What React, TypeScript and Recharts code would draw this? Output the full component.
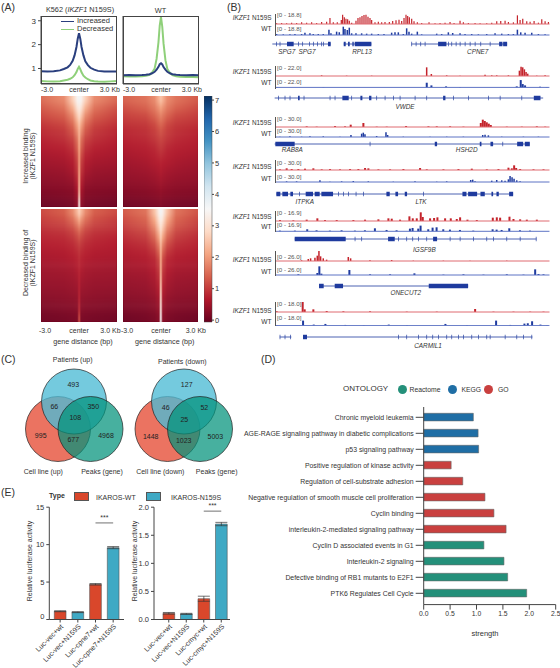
import {
  Bar,
  BarChart,
  Cell,
  ComposedChart,
  ErrorBar,
  Line,
  LineChart,
  ReferenceArea,
  ReferenceLine,
  Scatter,
  ScatterChart,
  XAxis,
  YAxis,
} from 'recharts';

const FONT = '"Liberation Sans", Arial, sans-serif';
const INK = '#333';
const AXIS = '#444';

// (A) signal profiles
const PROFILE_X = [-3, -2.5, -2, -1.5, -1.2, -0.9, -0.7, -0.5, -0.35, -0.2, -0.1, 0, 0.1, 0.2, 0.35, 0.5, 0.7, 0.9, 1.2, 1.5, 2, 2.5, 3];
const mutIncreased = [0.88, 0.87, 0.88, 0.92, 0.98, 1.05, 1.15, 1.32, 1.55, 1.9, 2.25, 2.48, 2.25, 1.9, 1.55, 1.3, 1.14, 1.03, 0.95, 0.9, 0.87, 0.87, 0.87];
const mutDecreased = [0.48, 0.46, 0.45, 0.47, 0.5, 0.53, 0.57, 0.63, 0.72, 0.85, 0.98, 1.07, 0.97, 0.84, 0.7, 0.62, 0.55, 0.5, 0.47, 0.45, 0.44, 0.46, 0.48];
const wtIncreased = [0.72, 0.73, 0.72, 0.73, 0.74, 0.76, 0.8, 0.86, 0.95, 1.07, 1.18, 1.22, 1.17, 1.06, 0.95, 0.86, 0.8, 0.76, 0.74, 0.73, 0.72, 0.73, 0.72];
const wtDecreased = [0.67, 0.66, 0.66, 0.67, 0.69, 0.73, 0.83, 1.0, 1.4, 2.1, 2.8, 3.15, 2.75, 2.05, 1.35, 0.98, 0.82, 0.72, 0.67, 0.65, 0.64, 0.64, 0.63];

// (A) heatmaps: rows top to bottom, values at HEAT_X
const HEAT_X = [-3, -1.2, -0.5, -0.15, 0, 0.15, 0.5, 1.2, 3];
const heatMutUp = [
  [1.55, 1.85, 2.7, 3.4, 3.6, 3.4, 2.7, 1.85, 1.5],
  [1.35, 1.6, 2.25, 3.0, 3.2, 3.0, 2.25, 1.6, 1.25],
  [1.2, 1.38, 1.85, 2.55, 2.85, 2.55, 1.85, 1.38, 1.1],
  [1.02, 1.18, 1.55, 2.15, 2.5, 2.15, 1.55, 1.18, 0.95],
  [0.88, 1.0, 1.3, 1.85, 2.3, 1.85, 1.3, 1.0, 0.82],
  [0.76, 0.88, 1.08, 1.55, 2.2, 1.55, 1.08, 0.88, 0.72],
  [0.68, 0.75, 0.92, 1.4, 2.1, 1.4, 0.92, 0.75, 0.64],
  [0.58, 0.64, 0.78, 1.2, 2.0, 1.2, 0.78, 0.64, 0.58],
  [0.5, 0.55, 0.66, 1.05, 2.0, 1.05, 0.66, 0.55, 0.5],
  [0.42, 0.46, 0.58, 0.95, 2.1, 0.95, 0.58, 0.46, 0.42],
  [0.34, 0.38, 0.46, 0.8, 2.2, 0.8, 0.46, 0.38, 0.34],
  [0.27, 0.3, 0.34, 0.65, 2.3, 0.65, 0.34, 0.3, 0.27],
  [0.18, 0.22, 0.26, 0.5, 2.6, 0.5, 0.26, 0.22, 0.18],
  [0.06, 0.1, 0.14, 0.35, 3.3, 0.35, 0.14, 0.1, 0.06],
];
const heatWtUp = [
  [1.45, 1.6, 1.85, 2.3, 2.5, 2.3, 1.85, 1.6, 1.35],
  [1.25, 1.42, 1.66, 1.92, 2.05, 1.92, 1.66, 1.42, 1.18],
  [1.1, 1.2, 1.44, 1.64, 1.74, 1.64, 1.44, 1.2, 1.05],
  [0.98, 1.04, 1.2, 1.42, 1.48, 1.42, 1.2, 1.04, 0.94],
  [0.84, 0.92, 1.06, 1.2, 1.27, 1.2, 1.06, 0.92, 0.8],
  [0.75, 0.83, 0.95, 1.06, 1.1, 1.06, 0.95, 0.83, 0.72],
  [0.66, 0.74, 0.82, 0.94, 0.98, 0.94, 0.82, 0.74, 0.66],
  [0.58, 0.66, 0.74, 0.82, 0.86, 0.82, 0.74, 0.66, 0.58],
  [0.5, 0.58, 0.66, 0.7, 0.74, 0.7, 0.66, 0.58, 0.5],
  [0.44, 0.5, 0.56, 0.62, 0.66, 0.62, 0.56, 0.5, 0.44],
  [0.38, 0.42, 0.48, 0.52, 0.56, 0.52, 0.48, 0.42, 0.38],
  [0.3, 0.34, 0.38, 0.42, 0.46, 0.42, 0.38, 0.34, 0.3],
  [0.22, 0.26, 0.3, 0.32, 0.35, 0.32, 0.3, 0.26, 0.22],
  [0.08, 0.12, 0.16, 0.18, 0.22, 0.18, 0.16, 0.12, 0.08],
];
const heatMutDown = [
  [1.2, 1.4, 1.85, 2.4, 2.7, 2.4, 1.85, 1.4, 1.2],
  [1.05, 1.2, 1.5, 1.85, 2.1, 1.85, 1.5, 1.2, 1.0],
  [0.9, 1.0, 1.18, 1.42, 1.58, 1.42, 1.18, 1.0, 0.9],
  [0.8, 0.85, 0.98, 1.14, 1.26, 1.14, 0.98, 0.85, 0.76],
  [0.72, 0.76, 0.84, 0.96, 1.04, 0.96, 0.84, 0.76, 0.68],
  [0.63, 0.67, 0.75, 0.83, 0.92, 0.83, 0.75, 0.67, 0.63],
  [0.58, 0.62, 0.66, 0.74, 0.84, 0.74, 0.66, 0.62, 0.58],
  [0.5, 0.54, 0.58, 0.66, 0.78, 0.66, 0.58, 0.54, 0.5],
  [0.46, 0.48, 0.52, 0.58, 0.74, 0.58, 0.52, 0.48, 0.46],
  [0.4, 0.42, 0.46, 0.5, 0.72, 0.5, 0.46, 0.42, 0.4],
  [0.34, 0.36, 0.4, 0.43, 0.74, 0.43, 0.4, 0.36, 0.34],
  [0.26, 0.3, 0.32, 0.36, 0.78, 0.36, 0.32, 0.3, 0.26],
  [0.18, 0.22, 0.24, 0.28, 0.85, 0.28, 0.24, 0.22, 0.18],
  [0.08, 0.12, 0.15, 0.18, 1.2, 0.18, 0.15, 0.12, 0.08],
];
const heatWtDown = [
  [1.36, 1.6, 2.5, 3.3, 3.6, 3.3, 2.5, 1.6, 1.28],
  [1.18, 1.4, 2.1, 2.9, 3.2, 2.9, 2.1, 1.4, 1.1],
  [1.02, 1.22, 1.75, 2.5, 2.9, 2.5, 1.75, 1.22, 0.98],
  [0.88, 1.04, 1.45, 2.1, 2.6, 2.1, 1.45, 1.04, 0.84],
  [0.76, 0.88, 1.18, 1.7, 2.35, 1.7, 1.18, 0.88, 0.76],
  [0.66, 0.76, 0.95, 1.4, 2.2, 1.4, 0.95, 0.76, 0.66],
  [0.6, 0.66, 0.78, 1.12, 2.15, 1.12, 0.78, 0.66, 0.6],
  [0.54, 0.58, 0.7, 1.0, 2.2, 1.0, 0.7, 0.58, 0.54],
  [0.46, 0.5, 0.62, 0.88, 2.35, 0.88, 0.62, 0.5, 0.46],
  [0.4, 0.44, 0.54, 0.76, 2.55, 0.76, 0.54, 0.44, 0.4],
  [0.34, 0.38, 0.46, 0.64, 2.75, 0.64, 0.46, 0.38, 0.34],
  [0.26, 0.3, 0.36, 0.52, 3.0, 0.52, 0.36, 0.3, 0.26],
  [0.18, 0.22, 0.28, 0.42, 3.2, 0.42, 0.28, 0.22, 0.18],
  [0.06, 0.12, 0.18, 0.3, 3.5, 0.3, 0.18, 0.12, 0.06],
];
const RDBU = ['#67001f', '#b2182b', '#d6604d', '#f4a582', '#fddbc7', '#f7f7f7', '#d1e5f0', '#92c5de', '#4393c3', '#2166ac', '#053061'];
const COLORBAR_TICKS = [0, 1, 2, 3, 4, 5, 6, 7];

// (B) genome tracks: [position, signal]
const track1Red = [[140,2],[155,3],[170,2],[185,4],[200,3],[215,5],[230,4],[245,5],[260,3],[275,6],[290,7],[300,18],[310,5],[322,5],[334,12],[338,28],[343,20],[348,16],[353,14],[358,10],[365,4],[378,10],[384,18],[390,20],[396,24],[402,27],[408,28],[414,22],[420,18],[425,12],[435,5],[445,7],[455,5],[465,6],[478,6],[488,9],[498,11],[507,13],[515,9],[522,18],[528,28],[533,24],[538,20],[545,16],[552,8],[562,5],[575,3],[597,5],[615,2],[630,3],[645,4],[660,6],[672,3],[690,10],[700,5],[715,3],[735,3],[750,2],[770,2],[785,4],[800,8],[812,9],[825,10],[835,6],[850,5],[862,26],[870,12],[878,16],[890,8],[900,7],[912,9],[925,4],[935,14],[945,8],[955,6]];
const track1Blue = [[140,3],[160,2],[180,2],[195,3],[215,3],[225,7],[240,5],[250,3],[265,3],[280,3],[297,16],[303,5],[320,10],[328,8],[340,25],[345,18],[352,15],[358,22],[365,5],[378,5],[395,5],[410,4],[425,4],[445,3],[462,3],[485,7],[495,8],[505,8],[520,3],[530,20],[537,10],[545,4],[562,10],[575,2],[620,4],[635,3],[655,8],[668,6],[690,5],[705,3],[725,3],[745,2],[770,3],[795,5],[815,4],[835,3],[850,3],[862,16],[872,8],[885,7],[905,7],[925,3],[945,2]];
const track2Red = [[275,2],[350,1],[425,1],[590,26],[604,6],[650,2],[690,1],[765,4],[785,2],[800,2],[835,2],[868,16],[873,28],[878,26],[883,20],[888,12],[893,7],[920,1],[945,2]];
const track2Blue = [[140,1],[280,1],[590,14],[604,6],[648,3],[690,1],[860,3],[872,22],[878,10],[885,6],[930,2],[950,1]];
const track3Red = [[230,2],[260,1],[315,3],[345,2],[362,7],[400,12],[440,1],[470,1],[528,3],[595,2],[620,2],[660,2],[700,1],[752,12],[758,22],[764,18],[770,14],[776,10],[782,6],[830,1],[875,1],[920,2],[945,1]];
const track3Blue = [[150,1],[180,2],[215,1],[240,2],[280,2],[330,1],[363,6],[395,10],[400,13],[405,8],[440,3],[468,14],[473,6],[520,1],[600,1],[650,1],[700,1],[758,6],[765,7],[775,5],[815,1],[880,1],[925,1]];
const track4Red = [[150,2],[170,5],[185,3],[205,3],[225,4],[250,5],[275,2],[300,3],[330,2],[360,3],[385,3],[405,6],[415,5],[445,2],[480,2],[520,3],[570,6],[590,2],[640,2],[685,3],[725,4],[770,2],[805,3],[835,7],[845,5],[852,14],[858,6],[870,3],[910,2],[940,2]];
const track4Blue = [[170,2],[200,2],[270,5],[300,1],[335,2],[370,3],[415,2],[490,1],[555,2],[620,1],[650,2],[722,6],[728,7],[735,2],[785,4],[800,6],[815,5],[825,4],[835,8],[840,18],[846,14],[852,10],[860,5],[870,2]];
const track5Red = [[150,3],[190,2],[230,4],[262,8],[285,3],[320,3],[370,3],[405,4],[445,5],[475,8],[485,7],[510,4],[538,14],[548,8],[560,8],[572,26],[578,12],[600,8],[612,9],[622,11],[645,8],[662,8],[680,6],[690,11],[712,4],[740,3],[788,10],[800,11],[810,10],[838,13],[850,6],[870,5],[890,4],[920,4]];
const track5Blue = [[150,2],[195,2],[232,6],[260,3],[300,2],[335,3],[375,2],[405,3],[435,9],[470,4],[500,3],[540,8],[548,10],[565,8],[572,17],[595,6],[608,11],[620,12],[640,6],[660,5],[690,4],[730,2],[788,6],[800,5],[815,4],[838,9],[870,3],[900,2]];
const track6Red = [[215,2],[235,6],[242,8],[255,10],[262,16],[267,30],[272,14],[280,8],[290,4],[355,12],[362,8],[420,2],[485,3],[550,1],[640,1],[720,1],[830,1]];
const track6Blue = [[205,2],[262,6],[268,26],[274,4],[358,15],[420,2],[480,2],[553,5],[640,1],[700,2],[760,1],[830,2],[880,1],[915,17],[925,3],[940,2]];
const track7Red = [[140,2],[218,30],[224,8],[250,8],[290,3],[340,2],[420,2],[530,1],[620,1],[735,9],[790,1],[850,1],[900,1],[940,1]];
const track7Blue = [[140,1],[218,15],[250,3],[285,5],[345,2],[400,1],[475,3],[530,1],[645,5],[710,1],[797,15],[840,2],[882,6],[892,7],[905,13],[930,3],[950,1]];

// (B) gene models: [start, end] with exons as a position or a [start, end] span
type Gene = { span: number[]; exons: (number | number[])[] };
const genes1: Gene[] = [
  { span: [128, 205], exons: [140, 150, [172, 192], 205] },
  { span: [205, 303], exons: [218, 238, 250, 262, 275, 280, [295, 303]] },
  { span: [342, 425], exons: [[342, 348], [355, 360], [368, 372], [375, 425]] },
  { span: [545, 832], exons: [545, 558, 572, 585, [625, 650], 655, 665, 678, 690, 705, 720, 735, 752, 780, [808, 818], [820, 832]] },
];
const genes2: Gene[] = [
  { span: [135, 940], exons: [145, 165, 180, [205, 210], 222, 300, 315, [338, 357], 365, [392, 398], [418, 425], 440, 465, 490, 510, 555, 590, [640, 647], 670, 715, 775, 810, 875, [912, 932]] },
];
const genes3: Gene[] = [
  { span: [135, 900], exons: [[137, 195], 420, [615, 622], [750, 755], [782, 790], 818, [862, 880], [885, 900]] },
];
const genes4: Gene[] = [
  { span: [140, 850], exons: [[140, 152], [158, 175], [182, 190], 208, [228, 250], [255, 270], [275, 310], 325, 340, 355, 378, 400, [470, 480], [497, 505], [525, 532], 580, [698, 710], [715, 742], [752, 765], [785, 790], [800, 807], [838, 850]] },
];
const genes5: Gene[] = [
  { span: [195, 920], exons: [[195, 348], 375, 395, [475, 495], 505, 530, 548, 565, 590, [610, 622], 660, 690, 730, 770, 790, 830, 870, 918] },
];
const genes6: Gene[] = [
  { span: [270, 715], exons: [[268, 282], [315, 340], [597, 715]] },
];
const genes7: Gene[] = [
  { span: [150, 185], exons: [150, 165, 182] },
  { span: [220, 908], exons: [[220, 232], 505, 530, 565, 590, 608, 625, 650, 665, 685, 700, 725, 745, 770, 780, 825, 860, 880, 905] },
];

// (C) venn counts: patients, patients+line, patients+peaks, all, line, line+peaks, peaks
const vennUpCounts = [493, 66, 350, 108, 995, 677, 4968];
const vennDownCounts = [127, 46, 52, 25, 1448, 1023, 5003];

// (D) enrichment
const ontologyTerms = [
  'Chronic myeloid leukemia',
  'AGE-RAGE signaling pathway in diabetic complications',
  'p53 signaling pathway',
  'Positive regulation of kinase activity',
  'Regulation of cell-substrate adhesion',
  'Negative regulation of smooth muscle cell proliferation',
  'Cyclin binding',
  'interleukin-2-mediated signaling pathway',
  'Cyclin D associated events in G1',
  'Interleukin-2 signaling',
  'Defective binding of RB1 mutants to E2F1',
  'PTK6 Regulates Cell Cycle',
];
const ontologyStrength = [0.94, 1.03, 1.04, 0.52, 0.74, 1.16, 1.33, 1.56, 1.14, 1.52, 1.59, 1.95];
const ontologyClass = ['KEGG', 'KEGG', 'KEGG', 'GO', 'GO', 'GO', 'GO', 'GO', 'Reactome', 'Reactome', 'Reactome', 'Reactome'];
const ONTOLOGY_COLORS: Record<string, string> = { Reactome: '#24907a', KEGG: '#1f6ea5', GO: '#c9403f' };

// (E) luciferase
const cpne7Labels = ['Luc-vec+wt', 'Luc-vec+N159S', 'Luc-cpne7+wt', 'Luc-cpne7+N159S'];
const cpne7Values = [1.1, 0.98, 4.7, 9.6];
const cpne7Errors = [0.06, 0.06, 0.1, 0.14];
const cmycLabels = ['Luc-vec+wt', 'Luc-vec+N159S', 'Luc-cmyc+wt', 'Luc-cmyc+N159S'];
const cmycValues = [0.11, 0.1, 0.37, 1.7];
const cmycErrors = [0.015, 0.01, 0.045, 0.03];
const LUC_COLORS = ['#d9472b', '#3fa9c4'];

const TRACK_RED = '#c4232b';
const TRACK_BLUE = '#1f3b9e';

function Txt({ x, y, size = 7, anchor = 'middle', rotate = 0, color = INK, bold = false, italic = false, children }: any) {
  const shift = anchor === 'middle' ? '-50%' : anchor === 'end' ? '-100%' : '0';
  return (
    <span
      style={{
        position: 'absolute',
        left: x,
        top: y,
        fontSize: size,
        lineHeight: 1,
        color,
        whiteSpace: 'nowrap',
        fontWeight: bold ? 700 : 400,
        fontStyle: italic ? 'italic' : 'normal',
        transform: `translate(${shift}, -50%) rotate(${rotate}deg)`,
      }}
    >
      {children}
    </span>
  );
}

function rdbu(value: number) {
  const t = Math.max(0, Math.min(0.9999, value / 7)) * (RDBU.length - 1);
  const i = Math.floor(t);
  const mix = (a: string, b: string, f: number) => {
    const pa = [1, 3, 5].map((k) => parseInt(a.slice(k, k + 2), 16));
    const pb = [1, 3, 5].map((k) => parseInt(b.slice(k, k + 2), 16));
    return `rgb(${pa.map((c, n) => Math.round(c + (pb[n] - c) * f)).join(',')})`;
  };
  return mix(RDBU[i], RDBU[i + 1], t - i);
}

function ProfileTick({ x, y, index, span }: any) {
  const anchor = index === 0 ? 'start' : index === 2 ? 'end' : 'middle';
  const label = index === 0 ? '-3.0' : index === 1 ? 'center' : '3.0 Kb';
  return (
    <text x={x + (index === 2 ? span : 0)} y={y + 6} textAnchor={anchor} fontSize={7} fill={INK}>
      {label}
    </text>
  );
}

function Profile({ left, up, down, showY }: any) {
  const data = PROFILE_X.map((pos, i) => ({ pos, up: up[i], down: down[i] }));
  return (
    <div style={{ position: 'absolute', left: left - 30, top: 16 }}>
      <LineChart width={112} height={84} data={data} margin={{ top: 0, right: 6, left: 0, bottom: 0 }}>
        <XAxis
          type="number"
          dataKey="pos"
          domain={[-3, 3]}
          ticks={[-3, 0, 3]}
          interval={0}
          height={16}
          tickSize={0}
          axisLine={{ stroke: AXIS }}
          tick={<ProfileTick span={3} />}
        />
        <YAxis
          type="number"
          width={30}
          domain={[0.35, 3.2]}
          ticks={[1, 2, 3]}
          tickSize={3}
          tickMargin={2}
          fontSize={8}
          tick={showY ? { fill: INK } : false}
          axisLine={{ stroke: AXIS }}
          tickLine={{ stroke: AXIS }}
        />
        <Line dataKey="down" stroke="#8fd07a" strokeWidth={2} dot={false} isAnimationActive={false} />
        <Line dataKey="up" stroke="#2a3f7e" strokeWidth={2} dot={false} isAnimationActive={false} />
      </LineChart>
      <div style={{ position: 'absolute', left: 30, top: 0, width: 76, height: 68, border: `1px solid ${AXIS}`, boxSizing: 'border-box' }} />
    </div>
  );
}

function Heat({ id, rows, left, top, width, height }: any) {
  const padded = [rows[0], ...rows, rows[rows.length - 1]];
  const rowHeight = height / rows.length;
  const data = padded.map((_: number[], row: number) => ({ row, span: 1 }));
  return (
    <div style={{ position: 'absolute', left, top, width, height, overflow: 'hidden', outline: `1px solid ${AXIS}`, outlineOffset: -1 }}>
      <div style={{ position: 'absolute', left: 0, top: -rowHeight, filter: 'url(#rowBlur)' }}>
        <BarChart layout="vertical" width={width} height={height + 2 * rowHeight} data={data} barCategoryGap={0} margin={{ top: 0, right: 0, left: 0, bottom: 0 }}>
          <defs>
            {padded.map((values: number[], row: number) => (
              <linearGradient key={row} id={`${id}-${row}`} x1="0" x2="1" y1="0" y2="0">
                {values.map((v, k) => (
                  <stop key={k} offset={(HEAT_X[k] + 3) / 6} stopColor={rdbu(v)} />
                ))}
              </linearGradient>
            ))}
          </defs>
          <XAxis type="number" domain={[0, 1]} hide />
          <YAxis type="category" dataKey="row" hide />
          <Bar dataKey="span" isAnimationActive={false}>
            {data.map((d: any) => (
              <Cell key={d.row} fill={`url(#${id}-${d.row})`} />
            ))}
          </Bar>
        </BarChart>
      </div>
    </div>
  );
}

function ColorBar() {
  return (
    <div style={{ position: 'absolute', left: 204, top: 95.7 }}>
      <BarChart width={24} height={234} data={[{ name: 'scale', range: [-0.06, 7.13] }]} barCategoryGap={0} margin={{ top: 0, right: 0, left: 0, bottom: 8 }}>
        <defs>
          <linearGradient id="cbar" x1="0" x2="0" y1="1" y2="0">
            {RDBU.map((c, i) => (
              <stop key={c} offset={i / (RDBU.length - 1)} stopColor={c} />
            ))}
          </linearGradient>
        </defs>
        <XAxis dataKey="name" hide />
        <YAxis
          orientation="right"
          type="number"
          width={16}
          domain={[-0.06, 7.13]}
          ticks={COLORBAR_TICKS}
          interval={0}
          tickSize={2}
          tickMargin={1}
          fontSize={7.5}
          tick={{ fill: INK }}
          axisLine={false}
          tickLine={{ stroke: AXIS }}
        />
        <Bar dataKey="range" fill="url(#cbar)" stroke={AXIS} strokeWidth={0.5} isAnimationActive={false} />
      </BarChart>
    </div>
  );
}

function Track({ peaks, top, height, color, line }: any) {
  const data = peaks.map(([pos, signal]: number[]) => ({ pos, signal }));
  return (
    <div style={{ position: 'absolute', left: 275, top }}>
      <BarChart width={274.5} height={height + 1} data={data} margin={{ top: 0, right: 0, left: 0, bottom: 1 }}>
        <XAxis type="number" dataKey="pos" domain={[135, 958]} hide />
        <YAxis type="number" domain={[0, height * 3]} hide />
        <ReferenceLine y={0} stroke={line} strokeWidth={1} />
        <Bar dataKey="signal" fill={color} barSize={2} isAnimationActive={false} />
      </BarChart>
    </div>
  );
}

function GeneTrack({ genes, y }: any) {
  return (
    <div style={{ position: 'absolute', left: 268.33, top: y - 4 }}>
      <ComposedChart width={281.17} height={8} data={[{ pos: 115, base: 0 }, { pos: 958, base: 0 }]} margin={{ top: 0, right: 0, left: 0, bottom: 0 }}>
        <XAxis type="number" dataKey="pos" domain={[115, 958]} hide />
        <YAxis type="number" domain={[0, 1]} hide />
        <Line dataKey="base" stroke="none" dot={false} isAnimationActive={false} />
        {genes.map((g: Gene, i: number) => (
          <ReferenceLine
            key={i}
            segment={[
              { x: g.span[0], y: 0.5 },
              { x: g.span[1], y: 0.5 },
            ]}
            stroke={TRACK_BLUE}
            strokeWidth={0.8}
          />
        ))}
        {genes.flatMap((g: Gene, i: number) =>
          g.exons.map((e, k) => {
            const [s, t] = Array.isArray(e) ? e : [e, e + 2];
            return <ReferenceArea key={`${i}-${k}`} x1={s} x2={t} y1={0.22} y2={0.78} fill={TRACK_BLUE} fillOpacity={1} stroke="none" />;
          }),
        )}
      </ComposedChart>
    </div>
  );
}

function Locus({ range, red, blue, genes, names, redBase, blueBase, redLabel, blueLabel, redRange, blueRange, geneY, nameY }: any) {
  const redHeight = 11;
  const top = redBase - redHeight;
  return (
    <>
      <Track peaks={red} top={top} height={redHeight} color={TRACK_RED} line="#df6a70" />
      <Track peaks={blue} top={redBase} height={blueBase - redBase} color={TRACK_BLUE} line="#5d73c4" />
      <div style={{ position: 'absolute', left: 274.5, top: top + 1, width: 0.8, height: blueBase - top, background: '#555' }} />
      <Txt x={271.5} y={redLabel} size={6.4} anchor="end">
        <i>IKZF1</i> N159S
      </Txt>
      <Txt x={271.5} y={blueLabel} size={6.6} anchor="end">
        WT
      </Txt>
      <Txt x={277} y={redRange} size={6.2} anchor="start" color="#555">{`[0 - ${range}]`}</Txt>
      <Txt x={277} y={blueRange} size={6.2} anchor="start" color="#555">{`[0 - ${range}]`}</Txt>
      <GeneTrack genes={genes} y={geneY} />
      {names.map(([name, x]: any) => (
        <Txt key={`${name}${x}`} x={x} y={nameY} size={6.4} italic>
          {name}
        </Txt>
      ))}
    </>
  );
}

function VennCircle({ cx, cy, fill, opacity }: any) {
  return <circle cx={cx} cy={cy} r={32.5} fill={fill} fillOpacity={opacity} stroke="#222" strokeWidth={0.7} />;
}

function VennCount(props: any) {
  return (
    <text x={props.cx} y={props.cy} dy={2.6} textAnchor="middle" fontSize={7} fill="#222">
      {props.payload.count}
    </text>
  );
}

function Venn() {
  const red = [{ x: 58, y: 429 }, { x: 167.5, y: 429 }];
  const blue = [{ x: 74, y: 401.5 }, { x: 184, y: 401.5 }];
  const green = [{ x: 90.5, y: 429 }, { x: 200, y: 429 }];
  const upSpots = [[73.3, 384.3], [54.3, 406.7], [93.3, 406.7], [75.3, 417.7], [40.7, 435.7], [73.3, 439.7], [106, 435]];
  const downSpots = [[186.7, 384.3], [165.7, 407.7], [204.3, 407.7], [184.3, 419], [150.7, 436], [183.7, 440.7], [215.3, 436]];
  const counts = [
    ...vennUpCounts.map((count, i) => ({ x: upSpots[i][0], y: upSpots[i][1], count })),
    ...vennDownCounts.map((count, i) => ({ x: downSpots[i][0], y: downSpots[i][1], count })),
  ];
  return (
    <div style={{ position: 'absolute', left: 0, top: 360 }}>
      <ScatterChart width={240} height={110} margin={{ top: 0, right: 0, left: 0, bottom: 0 }}>
        <XAxis type="number" dataKey="x" domain={[0, 240]} hide />
        <YAxis type="number" dataKey="y" domain={[360, 470]} reversed hide />
        <Scatter data={red} isAnimationActive={false} shape={(p: any) => <VennCircle {...p} fill="#e64b35" opacity={0.78} />} />
        <Scatter data={blue} isAnimationActive={false} shape={(p: any) => <VennCircle {...p} fill="#4dbbd5" opacity={0.78} />} />
        <Scatter data={green} isAnimationActive={false} shape={(p: any) => <VennCircle {...p} fill="#00917a" opacity={0.72} />} />
        <Scatter data={counts} isAnimationActive={false} shape={<VennCount />} />
      </ScatterChart>
    </div>
  );
}

function TermTick({ x, y, payload }: any) {
  return (
    <text x={x} y={y + 2.4} textAnchor="end" fontSize={6.9} fill={INK}>
      {payload.value}
    </text>
  );
}

function Ontology() {
  const data = ontologyTerms.map((term, i) => ({ term, strength: ontologyStrength[i], group: ontologyClass[i] }));
  return (
    <div style={{ position: 'absolute', left: 235, top: 406.7 }}>
      <BarChart layout="vertical" width={325} height={218} data={data} barSize={7.6} margin={{ top: 0, right: 4.3, left: 0, bottom: 0 }}>
        <XAxis
          type="number"
          domain={[0, 2.5]}
          ticks={[0, 0.5, 1, 1.5, 2, 2.5]}
          height={20.4}
          tickFormatter={(v: number) => v.toFixed(1)}
          tickSize={5}
          tickMargin={2}
          fontSize={6.8}
          tick={{ fill: INK }}
          axisLine={{ stroke: AXIS }}
          tickLine={{ stroke: AXIS }}
        />
        <YAxis
          type="category"
          dataKey="term"
          width={188.7}
          interval={0}
          padding={{ top: 2.3, bottom: 3.3 }}
          tickSize={8}
          tickMargin={2}
          tick={<TermTick />}
          axisLine={{ stroke: AXIS }}
          tickLine={{ stroke: AXIS }}
        />
        <Bar dataKey="strength" stroke="#666" strokeWidth={0.6} isAnimationActive={false}>
          {data.map((d) => (
            <Cell key={d.term} fill={ONTOLOGY_COLORS[d.group]} />
          ))}
        </Bar>
      </BarChart>
    </div>
  );
}

function ZeroLiftTick({ x, y, payload }: any) {
  return (
    <text x={x} y={y + (payload.value === 0 ? -1 : 2.6)} textAnchor="end" fontSize={7.5} fill={INK}>
      {payload.value}
    </text>
  );
}

function LucChart({ left, axisX, labels, values, errors, domain, ticks, tickFormat, sigY, liftZero, width, pad }: any) {
  const data = labels.map((label: string, i: number) => ({ label, value: values[i], err: errors[i] }));
  return (
    <div style={{ position: 'absolute', left, top: 500 }}>
      <BarChart width={width} height={168} data={data} barSize={11.7} margin={{ top: 7.2, right: 8, left: 0, bottom: 0 }}>
        <XAxis
          dataKey="label"
          interval={0}
          height={48.5}
          padding={pad}
          angle={-45}
          textAnchor="end"
          tickSize={3}
          tickMargin={1}
          fontSize={7}
          tick={{ fill: INK }}
          axisLine={{ stroke: AXIS }}
          tickLine={{ stroke: AXIS }}
        />
        <YAxis
          type="number"
          width={axisX - left}
          domain={domain}
          ticks={ticks}
          interval={0}
          tickFormatter={tickFormat}
          tickSize={3}
          tickMargin={2}
          fontSize={7.5}
          tick={liftZero ? <ZeroLiftTick /> : { fill: INK }}
          axisLine={{ stroke: AXIS }}
          tickLine={{ stroke: AXIS }}
        />
        <Bar dataKey="value" stroke="#555" strokeWidth={0.6} isAnimationActive={false}>
          {data.map((_: any, i: number) => (
            <Cell key={i} fill={LUC_COLORS[i % 2]} />
          ))}
          <ErrorBar dataKey="err" width={6} stroke="#333" strokeWidth={0.7} />
        </Bar>
        <ReferenceLine
          segment={[
            { x: labels[2], y: sigY },
            { x: labels[3], y: sigY },
          ]}
          stroke="#333"
          strokeWidth={0.7}
          label={{ value: '***', position: 'top', fontSize: 7, fill: INK, dy: 2 }}
        />
      </BarChart>
    </div>
  );
}

export default function App() {
  return (
    <div style={{ position: 'absolute', left: 0, top: 0, width: 560, height: 668, overflow: 'hidden', background: '#fff', fontFamily: FONT }}>
      <svg width={0} height={0} style={{ position: 'absolute' }}>
        <filter id="rowBlur" x="0" y="-5%" width="100%" height="110%" colorInterpolationFilters="sRGB">
          <feGaussianBlur stdDeviation="0 3.2" />
        </filter>
      </svg>

      {/* (A) */}
      <Txt x={1} y={7} size={10.5} anchor="start">(A)</Txt>
      <Txt x={80} y={9.5} size={7.3}>
        K562 (<i>IKZF1</i> N159S)
      </Txt>
      <Txt x={160.5} y={10.5} size={7.3}>WT</Txt>
      <Profile left={41} up={mutIncreased} down={mutDecreased} showY />
      <Profile left={122.6} up={wtIncreased} down={wtDecreased} showY={false} />
      <div style={{ position: 'absolute', left: 61, top: 20.5, width: 13, height: 1.6, background: '#2a3f7e' }} />
      <div style={{ position: 'absolute', left: 61, top: 28.8, width: 13, height: 1.6, background: '#8fd07a' }} />
      <Txt x={77} y={21} size={7.5} anchor="start">Increased</Txt>
      <Txt x={77} y={29.3} size={7.5} anchor="start">Decreased</Txt>

      <Heat id="hmu" rows={heatMutUp} left={41} top={95.7} width={76.3} height={111.6} />
      <Heat id="hwu" rows={heatWtUp} left={122.6} top={95.7} width={75.7} height={111.6} />
      <Heat id="hmd" rows={heatMutDown} left={41} top={209} width={76.3} height={112.7} />
      <Heat id="hwd" rows={heatWtDown} left={122.6} top={209} width={75.7} height={112.7} />
      <ColorBar />
      <Txt x={25} y={156} size={7} rotate={-90}>Increased binding</Txt>
      <Txt x={32.3} y={156} size={7} rotate={-90}>(IKZF1 N159S)</Txt>
      <Txt x={25} y={263} size={7} rotate={-90}>Decreased binding of</Txt>
      <Txt x={32.3} y={263} size={7} rotate={-90}>(IKZF1 N159S)</Txt>
      <Txt x={45} y={329.7}>-3.0</Txt>
      <Txt x={79} y={329.7}>center</Txt>
      <Txt x={120.6} y={329.7} anchor="end">3.0 Kb</Txt>
      <Txt x={127} y={329.7}>-3.0</Txt>
      <Txt x={161} y={329.7}>center</Txt>
      <Txt x={206} y={329.7} anchor="end">3.0 Kb</Txt>
      <Txt x={83} y={341.7} size={7.2}>gene distance (bp)</Txt>
      <Txt x={164.7} y={341.7} size={7.2}>gene distance (bp)</Txt>

      {/* (B) */}
      <Txt x={227} y={7} size={10.5} anchor="start">(B)</Txt>
      <Locus range="18.8" red={track1Red} blue={track1Blue} genes={genes1} names={[['SPG7', 286.7], ['SPG7', 307], ['RPL13', 362], ['CPNE7', 477.7]]} redBase={24} blueBase={35} redLabel={18} blueLabel={29} redRange={15.3} blueRange={29} geneY={43.7} nameY={52} />
      <Locus range="22.0" red={track2Red} blue={track2Blue} genes={genes2} names={[['VWDE', 405]]} redBase={76.3} blueBase={87.7} redLabel={72} blueLabel={83} redRange={68} blueRange={82} geneY={98} nameY={107} />
      <Locus range="30.0" red={track3Red} blue={track3Blue} genes={genes3} names={[['RAB8A', 292.3], ['HSH2D', 466.7]]} redBase={127} blueBase={137} redLabel={122.7} blueLabel={134} redRange={119} blueRange={131} geneY={143.7} nameY={150} />
      <Locus range="30.0" red={track4Red} blue={track4Blue} genes={genes4} names={[['ITPKA', 304.7], ['LTK', 421]]} redBase={170.3} blueBase={182.3} redLabel={166.7} blueLabel={178.7} redRange={163} blueRange={176.7} geneY={194.3} nameY={201.7} />
      <Locus range="16.9" red={track5Red} blue={track5Blue} genes={genes5} names={[['IGSF9B', 424.3]]} redBase={221} blueBase={231.3} redLabel={216.7} blueLabel={227.3} redRange={212.7} blueRange={225} geneY={239.3} nameY={249.7} />
      <Locus range="26.0" red={track6Red} blue={track6Blue} genes={genes6} names={[['ONECUT2', 405.7]]} redBase={261} blueBase={275} redLabel={260.3} blueLabel={271.7} redRange={256.7} blueRange={269.7} geneY={286} nameY={293.3} />
      <Locus range="18.0" red={track7Red} blue={track7Blue} genes={genes7} names={[['CARMIL1', 428]]} redBase={311.7} blueBase={325.3} redLabel={310.7} blueLabel={322.3} redRange={304.3} blueRange={317.7} geneY={336.7} nameY={345.7} />

      {/* (C) */}
      <Txt x={1} y={359} size={10.5} anchor="start">(C)</Txt>
      <Venn />
      <Txt x={72.7} y={359.3}>Patients (up)</Txt>
      <Txt x={43.3} y={471.3}>Cell line (up)</Txt>
      <Txt x={102} y={471.3}>Peaks (gene)</Txt>
      <Txt x={182.3} y={361.3}>Patients (down)</Txt>
      <Txt x={160.3} y={471.3}>Cell line (down)</Txt>
      <Txt x={216.7} y={471.3}>Peaks (gene)</Txt>

      {/* (D) */}
      <Txt x={261} y={359} size={10.5} anchor="start">(D)</Txt>
      <Txt x={343} y={389} size={8} anchor="start">ONTOLOGY</Txt>
      {[
        ['Reactome', 402.7, 409.5],
        ['KEGG', 452.7, 461.5],
        ['GO', 488.7, 498],
      ].map(([name, dot, text]: any) => (
        <span key={name}>
          <div style={{ position: 'absolute', left: dot - 4.7, top: 384.7, width: 9.4, height: 9.4, borderRadius: '50%', background: ONTOLOGY_COLORS[name] }} />
          <Txt x={text} y={389.5} size={6.8} anchor="start">{name}</Txt>
        </span>
      ))}
      <Ontology />
      <Txt x={485} y={634} size={7.5}>strength</Txt>

      {/* (E) */}
      <Txt x={1} y={491.7} size={10.5} anchor="start">(E)</Txt>
      <Txt x={49} y={495} size={7} anchor="start" bold>Type</Txt>
      <div style={{ position: 'absolute', left: 75, top: 492.7, width: 13, height: 7.4, background: LUC_COLORS[0], outline: '0.5px solid #555' }} />
      <Txt x={96} y={496.5} size={7} anchor="start">IKAROS-WT</Txt>
      <div style={{ position: 'absolute', left: 147, top: 492.7, width: 13, height: 7.4, background: LUC_COLORS[1], outline: '0.5px solid #555' }} />
      <Txt x={171} y={496.5} size={7} anchor="start">IKAROS-N159S</Txt>
      <LucChart left={0} axisX={49.3} width={132} pad={{ left: 2, right: 2 }} labels={cpne7Labels} values={cpne7Values} errors={cpne7Errors} domain={[0, 15]} ticks={[0, 5, 10, 15]} sigY={12.9} liftZero />
      <LucChart left={110} axisX={154} width={128} pad={{ left: 6, right: 0 }} labels={cmycLabels} values={cmycValues} errors={cmycErrors} domain={[0, 2]} ticks={[0, 0.5, 1, 1.5, 2]} tickFormat={(v: number) => v.toFixed(1)} sigY={1.93} />
      <Txt x={28.7} y={561} size={7} rotate={-90}>Relative luciferase activity</Txt>
      <Txt x={134.3} y={561} size={7} rotate={-90}>Relative luciferase activity</Txt>
    </div>
  );
}
